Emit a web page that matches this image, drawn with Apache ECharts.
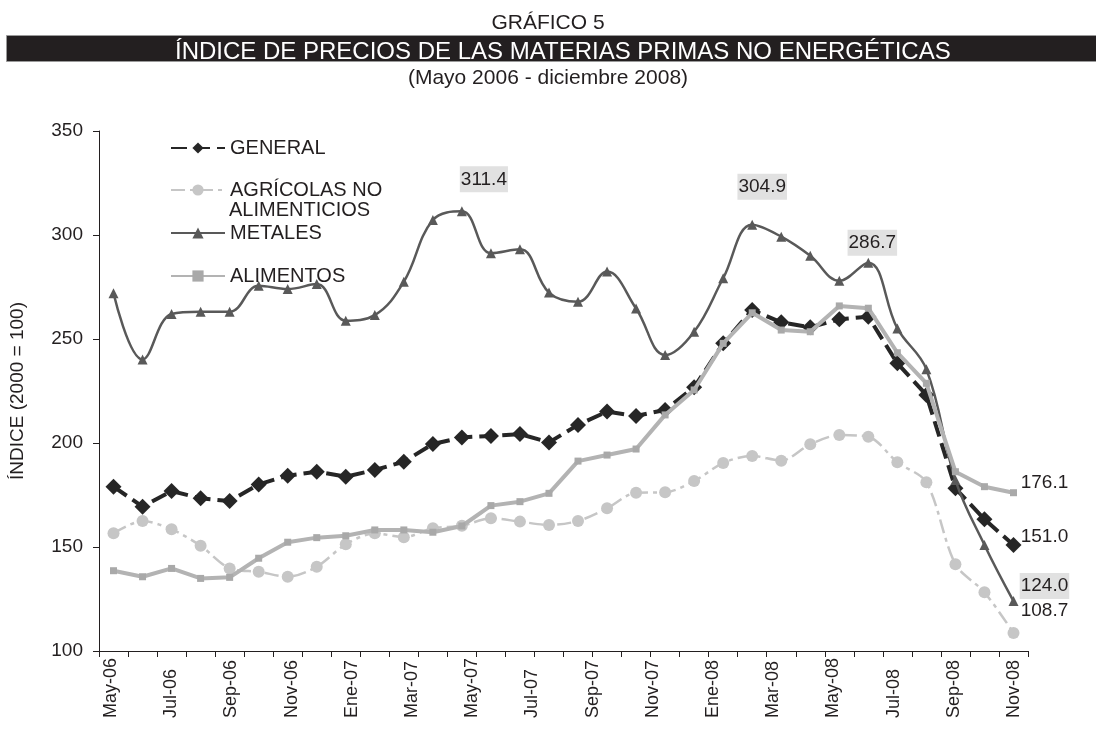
<!DOCTYPE html>
<html>
<head>
<meta charset="utf-8">
<script src="https://cdn.jsdelivr.net/npm/echarts@6/dist/echarts.min.js"></script>
<style>
  html, body { margin: 0; padding: 0; background: #fff; }
  #main { width: 1096px; height: 732px; }
</style>
</head>
<body>
<div id="main"></div>
<script>
// meses de la serie (mayo 2006 - diciembre 2008)
var months = ['May-06','Jun-06','Jul-06','Ago-06','Sep-06','Oct-06','Nov-06','Dic-06',
    'Ene-07','Feb-07','Mar-07','Abr-07','May-07','Jun-07','Jul-07','Ago-07','Sep-07','Oct-07','Nov-07','Dic-07',
    'Ene-08','Feb-08','Mar-08','Abr-08','May-08','Jun-08','Jul-08','Ago-08','Sep-08','Oct-08','Nov-08','Dic-08'];
// etiquetas del eje tal como aparecen en el grafico
var tickLabels = ['May-06','Jul-06','Sep-06','Nov-06','Ene-07','Mar-07','May-07','Jul-07',
    'Sep-07','Nov-07','Ene-08','Mar-08','May-08','Jul-08','Sep-08','Nov-08'];

var general = [179.0,169.4,176.9,173.4,172.1,180.1,184.3,186.2,183.8,187.0,191.0,199.5,202.7,203.4,204.3,200.3,
    208.7,215.1,213.0,215.9,226.8,247.9,263.9,258.0,255.6,259.5,260.7,238.3,223.1,178.2,163.3,151.0];
var agricolas = [156.6,162.5,158.5,150.6,139.7,138.1,135.7,140.5,151.3,156.6,154.7,159.0,160.2,163.8,162.2,160.6,
    162.5,168.6,176.1,176.3,181.7,190.4,193.8,191.5,199.4,203.8,203.0,190.7,181.1,141.7,128.2,108.7];
var metales = [272.0,240.2,262.0,263.1,263.1,275.6,274.0,276.4,258.8,261.5,277.5,307.2,311.4,291.2,293.1,272.3,
    267.9,282.4,264.7,242.3,253.5,279.2,304.9,299.2,290.0,278.0,286.7,255.1,235.4,182.2,151.0,124.0];
var alimentos = [138.6,135.7,139.7,134.9,135.4,144.6,152.3,154.5,155.4,158.2,158.2,157.1,160.1,169.9,171.8,175.8,
    191.3,194.2,197.1,213.5,225.5,247.9,262.6,254.3,253.5,265.9,264.8,243.4,228.7,186.2,179.0,176.1];

var FONT = '"Liberation Sans", Arial, sans-serif';
var TXT = '#231f20';

// etiquetas de valor sobre puntos concretos: indice -> [dx, dy, con fondo]
function withLabels(values, marks) {
    return values.map(function (v, i) {
        var m = marks[i];
        if (!m) return v;
        return {
            value: v,
            label: {
                show: true,
                position: 'inside',
                offset: [m[0], m[1]],
                formatter: function (p) { return p.value.toFixed(1); },
                color: TXT,
                fontFamily: FONT,
                fontSize: 19,
                backgroundColor: m[2] ? '#e1e1e1' : 'transparent',
                padding: m[2] ? [4, 1, 3, 1] : 0
            }
        };
    });
}

var chart = echarts.init(document.getElementById('main'));

var option = {
    backgroundColor: '#fff',
    animation: false,
    title: [
        {text: 'GRÁFICO 5', left: 'center', top: 8,
            textStyle: {fontFamily: FONT, fontWeight: 'normal', fontSize: 21, color: TXT}},
        {text: 'ÍNDICE DE PRECIOS DE LAS MATERIAS PRIMAS NO ENERGÉTICAS', left: 170, top: 35,
            textStyle: {fontFamily: FONT, fontWeight: 'normal', fontSize: 24, color: '#fff'}},
        {text: '(Mayo 2006 - diciembre 2008)', left: 'center', top: 63,
            textStyle: {fontFamily: FONT, fontWeight: 'normal', fontSize: 21, color: TXT}}
    ],
    graphic: [
        {type: 'rect', left: 6, top: 35, z: -1,
            shape: {width: 1090, height: 26},
            style: {fill: '#231f20', stroke: '#9a9a9a', lineWidth: 1}},
        {type: 'text', left: 229, top: 200,
            style: {text: 'ALIMENTICIOS', fontFamily: FONT, fontSize: 20, fill: TXT}}
    ],
    legend: [
        {data: ['GENERAL'], left: 170, top: 138},
        {data: ['AGRÍCOLAS NO ALIMENTICIOS'], left: 170, top: 180,
            formatter: function () { return 'AGRÍCOLAS NO'; }},
        {data: ['METALES'], left: 170, top: 223},
        {data: ['ALIMENTOS'], left: 170, top: 266}
    ].map(function (l) {
        l.padding = 0;
        l.itemWidth = 54;
        l.itemHeight = 14;
        l.textStyle = {fontFamily: FONT, fontSize: 20, color: TXT};
        return l;
    }),
    grid: [
        {left: 97, right: 68, top: 131, bottom: 81},
        // rejilla auxiliar solo para las etiquetas del eje x
        {left: 111, right: 82, top: 131, bottom: 81}
    ],
    xAxis: [
        {
            type: 'category', data: months, boundaryGap: true,
            axisLine: {lineStyle: {color: '#231f20', width: 1}},
            axisTick: {show: true, interval: 0, length: 6, lineStyle: {color: '#231f20'}},
            axisLabel: {show: false}
        },
        {
            gridIndex: 1, type: 'category', data: tickLabels, boundaryGap: false,
            axisLine: {show: false}, axisTick: {show: false},
            axisLabel: {interval: 0, rotate: 90, align: 'left', margin: 67,
                fontFamily: FONT, fontSize: 18, color: TXT}
        }
    ],
    yAxis: [
        {
            type: 'value', min: 100, max: 350, interval: 50,
            name: 'ÍNDICE (2000 = 100)', nameLocation: 'middle', nameGap: 72, nameRotate: 90,
            nameTextStyle: {fontFamily: FONT, fontSize: 19, color: TXT},
            axisLine: {show: true, lineStyle: {color: '#231f20', width: 1}},
            axisTick: {show: true, length: 6, lineStyle: {color: '#231f20'}},
            splitLine: {show: false},
            axisLabel: {margin: 16, fontFamily: FONT, fontSize: 19, color: TXT}
        },
        {gridIndex: 1, type: 'value', show: false}
    ],
    series: [
        {
            name: 'GENERAL', type: 'line',
            data: withLabels(general, {31: [31, -8]}),
            symbol: 'diamond', symbolSize: 16,
            itemStyle: {color: '#262626'},
            lineStyle: {color: '#262626', width: 4, type: [16, 7]},
            z: 2
        },
        {
            name: 'AGRÍCOLAS NO ALIMENTICIOS', type: 'line',
            data: withLabels(agricolas, {31: [31, -22]}),
            smooth: 0.3,
            symbol: 'circle', symbolSize: 12,
            itemStyle: {color: '#c6c6c6'},
            lineStyle: {color: '#c6c6c6', width: 2.5, type: [14, 5, 4, 5]},
            z: 3
        },
        {
            name: 'METALES', type: 'line',
            data: withLabels(metales, {12: [22, -32, true], 22: [10, -38, true], 26: [4, -20, true], 31: [31, -15, true]}),
            smooth: 0.4,
            symbol: 'triangle', symbolSize: 10,
            itemStyle: {color: '#595959'},
            lineStyle: {color: '#595959', width: 2.5},
            z: 4
        },
        {
            name: 'ALIMENTOS', type: 'line',
            data: withLabels(alimentos, {31: [31, -10]}),
            symbol: 'rect', symbolSize: 7,
            itemStyle: {color: '#a9a9a9'},
            lineStyle: {color: '#b3b3b3', width: 4},
            z: 5
        }
    ]
};

chart.setOption(option);
</script>
</body>
</html>
